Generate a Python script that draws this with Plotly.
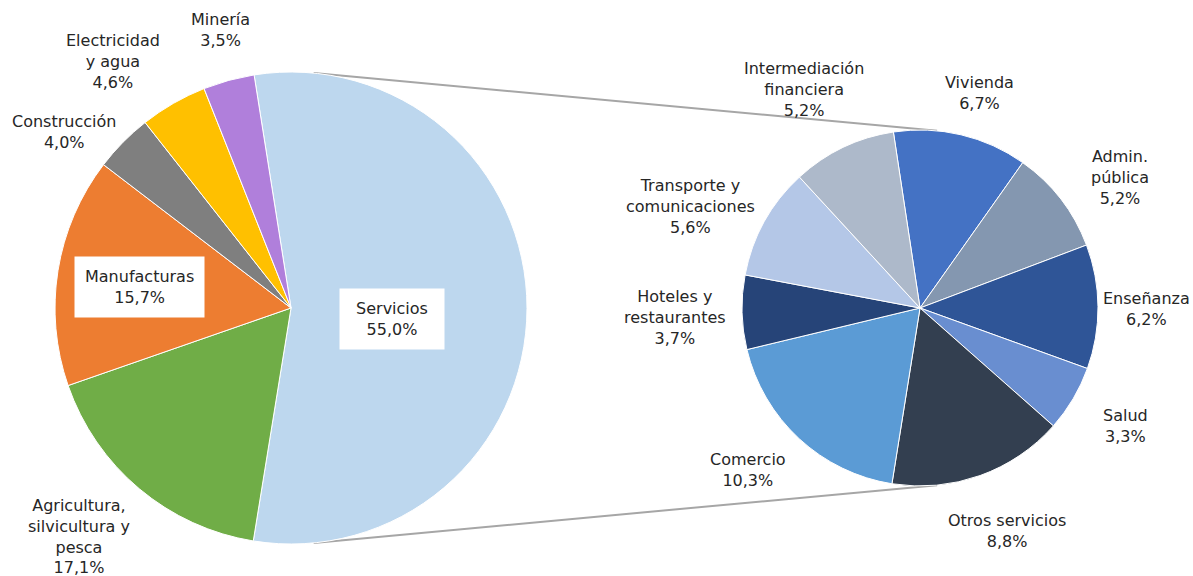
import math
import plotly.graph_objects as go

# ---- data ----
main_labels = ["Servicios", "Agricultura,<br>silvicultura y<br>pesca", "Manufacturas",
               "Construcción", "Electricidad<br>y agua", "Minería"]
main_values = [55.0, 17.1, 15.7, 4.0, 4.6, 3.5]
main_colors = ["#BDD7EE", "#70AD47", "#ED7D31", "#7F7F7F", "#FFC000", "#B07FDB"]

sub_labels = ["Vivienda", "Admin.<br>pública", "Enseñanza", "Salud", "Otros servicios",
              "Comercio", "Hoteles y<br>restaurantes", "Transporte y<br>comunicaciones",
              "Intermediación<br>financiera"]
sub_values = [6.7, 5.2, 6.2, 3.3, 8.8, 10.3, 3.7, 5.6, 5.2]
sub_colors = ["#4472C4", "#8497B0", "#2F5597", "#698ED0", "#333F50",
              "#5B9BD5", "#264478", "#B4C7E7", "#ADB9CA"]

# ---- label layout (style) ----
inside_labels = {"Servicios": (0.40, 84), "Manufacturas": (0.65, None)}
label_nudge = {  # px offsets of label centres (layout tuning)
    "Servicios": (7, 11), "Manufacturas": (0, 3), "Minería": (6, -7),
    "Electricidad": (-22, 6), "Construcción": (-5, 21), "Agricultura,": (-6, -2),
    "Vivienda": (5, 2), "Admin.": (16, 12), "Enseñanza": (-15, 3), "Salud": (12, 4),
    "Otros servicios": (-3, 13), "Comercio": (-11, -2), "Hoteles y": (9, 4),
    "Transporte y": (0, 12), "Intermediación": (-2, -8),
}

# ---- geometry (page px) ----
PW, PH = 1193, 576
L_CX, L_CY, L_R = 291, 308, 236
R_CX, R_CY, R_R = 920, 308, 178
L_ROT = -9.0
R_ROT = -8.6
FONT = "DejaVu Sans"
FS = 16
TXT = "#262626"


def px(x):
    return x / PW


def py(y):
    return 1 - y / PH


def dom(cx, cy, r):
    return dict(x=[px(cx - r), px(cx + r)], y=[py(cy + r), py(cy - r)])


def fmt(v):
    return f"{v:.1f}".replace(".", ",") + "%"


fig = go.Figure()
fig.add_trace(go.Pie(labels=main_labels, values=main_values, sort=False, direction="clockwise",
                     rotation=L_ROT, marker=dict(colors=main_colors, line=dict(color="white", width=1)),
                     textinfo="none", hoverinfo="label+percent", domain=dom(L_CX, L_CY, L_R),
                     showlegend=False))
fig.add_trace(go.Pie(labels=sub_labels, values=sub_values, sort=False, direction="clockwise",
                     rotation=R_ROT, marker=dict(colors=sub_colors, line=dict(color="white", width=1)),
                     textinfo="none", hoverinfo="label+value", domain=dom(R_CX, R_CY, R_R),
                     showlegend=False))

annotations = []


def add_labels(labels, values, cx, cy, r, rot, gap):
    total = sum(values)
    start = 90 - rot  # math angle (deg, ccw from east)
    for lab, v in zip(labels, values):
        span = v / total * 360
        mid = math.radians(start - span / 2)
        start -= span
        c, s = math.cos(mid), math.sin(mid)
        key = lab.split("<br>")[0]
        text = f"{lab}<br>{fmt(v)}"
        nx, ny = label_nudge.get(key, (0, 0))
        font = dict(family=FONT, size=FS, color=TXT)
        if key in inside_labels:
            f, wd = inside_labels[key]
            x, y = cx + f * r * c + nx, cy - f * r * s + ny
            ann = dict(x=px(x), y=py(y), xref="paper", yref="paper", text=text,
                       showarrow=False, bgcolor="white", borderpad=10,
                       xanchor="center", yanchor="middle", font=font)
            if wd:
                ann["width"] = wd
            annotations.append(ann)
            continue
        lines = lab.split("<br>") + [fmt(v)]
        w = max(len(t) for t in lines) * 0.55 * 15.6
        h = len(lines) * 20
        x = cx + (r + gap) * c + w / 2 * c + nx
        y = cy - (r + gap) * s - h / 2 * s + ny
        annotations.append(dict(x=px(x), y=py(y), xref="paper", yref="paper", text=text,
                                showarrow=False, xanchor="center", yanchor="middle", font=font))


add_labels(main_labels, main_values, L_CX, L_CY, L_R, L_ROT, 25)
add_labels(sub_labels, sub_values, R_CX, R_CY, R_R, R_ROT, 25)

# connector lines between pies
shapes = []
CONN = 84.5
for sgn in (1, -1):
    a = math.radians(sgn * CONN)
    x0, y0 = L_CX + L_R * math.cos(a), L_CY - L_R * math.sin(a)
    x1, y1 = R_CX + R_R * math.cos(a), R_CY - R_R * math.sin(a)
    shapes.append(dict(type="line", xref="paper", yref="paper", x0=px(x0), y0=py(y0),
                       x1=px(x1), y1=py(y1), line=dict(color="#A6A6A6", width=2), layer="below"))

fig.update_layout(width=PW, height=PH, margin=dict(l=0, r=0, t=0, b=0),
                  paper_bgcolor="white", plot_bgcolor="white",
                  annotations=annotations, shapes=shapes,
                  font=dict(family=FONT, size=FS, color=TXT))
fig.write_html("out.html", config={"displayModeBar": False},
               post_script="document.body.style.margin='0';document.body.style.overflow='hidden';")
